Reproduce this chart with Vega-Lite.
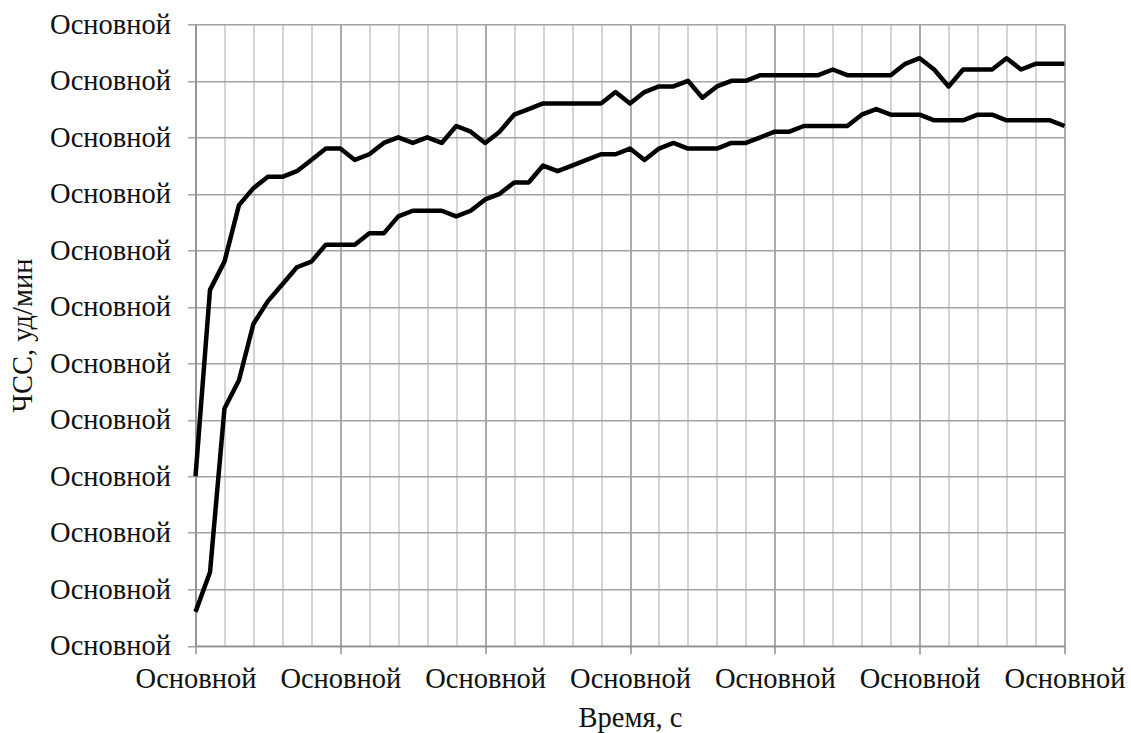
{
  "$schema": "https://vega.github.io/schema/vega-lite/v6.json",
  "width": 869,
  "height": 621.5,
  "autosize": {"type": "none"},
  "padding": {"left": 195.5, "top": 24.3, "right": 66, "bottom": 87},
  "background": "white",
  "config": {"view": {"stroke": null}, "font": "Liberation Serif"},
  "datasets": {
    "hr": [
      {"t": 0, "s": "A", "v": 30}, {"t": 1, "s": "A", "v": 63}, {"t": 2, "s": "A", "v": 68}, {"t": 3, "s": "A", "v": 78}, {"t": 4, "s": "A", "v": 81},
      {"t": 5, "s": "A", "v": 83}, {"t": 6, "s": "A", "v": 83}, {"t": 7, "s": "A", "v": 84}, {"t": 8, "s": "A", "v": 86}, {"t": 9, "s": "A", "v": 88},
      {"t": 10, "s": "A", "v": 88}, {"t": 11, "s": "A", "v": 86}, {"t": 12, "s": "A", "v": 87}, {"t": 13, "s": "A", "v": 89}, {"t": 14, "s": "A", "v": 90},
      {"t": 15, "s": "A", "v": 89}, {"t": 16, "s": "A", "v": 90}, {"t": 17, "s": "A", "v": 89}, {"t": 18, "s": "A", "v": 92}, {"t": 19, "s": "A", "v": 91},
      {"t": 20, "s": "A", "v": 89}, {"t": 21, "s": "A", "v": 91}, {"t": 22, "s": "A", "v": 94}, {"t": 23, "s": "A", "v": 95}, {"t": 24, "s": "A", "v": 96},
      {"t": 25, "s": "A", "v": 96}, {"t": 26, "s": "A", "v": 96}, {"t": 27, "s": "A", "v": 96}, {"t": 28, "s": "A", "v": 96}, {"t": 29, "s": "A", "v": 98},
      {"t": 30, "s": "A", "v": 96}, {"t": 31, "s": "A", "v": 98}, {"t": 32, "s": "A", "v": 99}, {"t": 33, "s": "A", "v": 99}, {"t": 34, "s": "A", "v": 100},
      {"t": 35, "s": "A", "v": 97}, {"t": 36, "s": "A", "v": 99}, {"t": 37, "s": "A", "v": 100}, {"t": 38, "s": "A", "v": 100}, {"t": 39, "s": "A", "v": 101},
      {"t": 40, "s": "A", "v": 101}, {"t": 41, "s": "A", "v": 101}, {"t": 42, "s": "A", "v": 101}, {"t": 43, "s": "A", "v": 101}, {"t": 44, "s": "A", "v": 102},
      {"t": 45, "s": "A", "v": 101}, {"t": 46, "s": "A", "v": 101}, {"t": 47, "s": "A", "v": 101}, {"t": 48, "s": "A", "v": 101}, {"t": 49, "s": "A", "v": 103},
      {"t": 50, "s": "A", "v": 104}, {"t": 51, "s": "A", "v": 102}, {"t": 52, "s": "A", "v": 99}, {"t": 53, "s": "A", "v": 102}, {"t": 54, "s": "A", "v": 102},
      {"t": 55, "s": "A", "v": 102}, {"t": 56, "s": "A", "v": 104}, {"t": 57, "s": "A", "v": 102}, {"t": 58, "s": "A", "v": 103}, {"t": 59, "s": "A", "v": 103},
      {"t": 60, "s": "A", "v": 103},
      {"t": 0, "s": "B", "v": 6}, {"t": 1, "s": "B", "v": 13}, {"t": 2, "s": "B", "v": 42}, {"t": 3, "s": "B", "v": 47}, {"t": 4, "s": "B", "v": 57},
      {"t": 5, "s": "B", "v": 61}, {"t": 6, "s": "B", "v": 64}, {"t": 7, "s": "B", "v": 67}, {"t": 8, "s": "B", "v": 68}, {"t": 9, "s": "B", "v": 71},
      {"t": 10, "s": "B", "v": 71}, {"t": 11, "s": "B", "v": 71}, {"t": 12, "s": "B", "v": 73}, {"t": 13, "s": "B", "v": 73}, {"t": 14, "s": "B", "v": 76},
      {"t": 15, "s": "B", "v": 77}, {"t": 16, "s": "B", "v": 77}, {"t": 17, "s": "B", "v": 77}, {"t": 18, "s": "B", "v": 76}, {"t": 19, "s": "B", "v": 77},
      {"t": 20, "s": "B", "v": 79}, {"t": 21, "s": "B", "v": 80}, {"t": 22, "s": "B", "v": 82}, {"t": 23, "s": "B", "v": 82}, {"t": 24, "s": "B", "v": 85},
      {"t": 25, "s": "B", "v": 84}, {"t": 26, "s": "B", "v": 85}, {"t": 27, "s": "B", "v": 86}, {"t": 28, "s": "B", "v": 87}, {"t": 29, "s": "B", "v": 87},
      {"t": 30, "s": "B", "v": 88}, {"t": 31, "s": "B", "v": 86}, {"t": 32, "s": "B", "v": 88}, {"t": 33, "s": "B", "v": 89}, {"t": 34, "s": "B", "v": 88},
      {"t": 35, "s": "B", "v": 88}, {"t": 36, "s": "B", "v": 88}, {"t": 37, "s": "B", "v": 89}, {"t": 38, "s": "B", "v": 89}, {"t": 39, "s": "B", "v": 90},
      {"t": 40, "s": "B", "v": 91}, {"t": 41, "s": "B", "v": 91}, {"t": 42, "s": "B", "v": 92}, {"t": 43, "s": "B", "v": 92}, {"t": 44, "s": "B", "v": 92},
      {"t": 45, "s": "B", "v": 92}, {"t": 46, "s": "B", "v": 94}, {"t": 47, "s": "B", "v": 95}, {"t": 48, "s": "B", "v": 94}, {"t": 49, "s": "B", "v": 94},
      {"t": 50, "s": "B", "v": 94}, {"t": 51, "s": "B", "v": 93}, {"t": 52, "s": "B", "v": 93}, {"t": 53, "s": "B", "v": 93}, {"t": 54, "s": "B", "v": 94},
      {"t": 55, "s": "B", "v": 94}, {"t": 56, "s": "B", "v": 93}, {"t": 57, "s": "B", "v": 93}, {"t": 58, "s": "B", "v": 93}, {"t": 59, "s": "B", "v": 93},
      {"t": 60, "s": "B", "v": 92}
    ]
  },
  "data": {"name": "hr"},
  "mark": {"type": "line", "strokeWidth": 4.5, "strokeJoin": "round", "strokeCap": "butt", "color": "black"},
  "encoding": {
    "x": {
      "field": "t",
      "type": "quantitative",
      "scale": {"domain": [0, 60], "nice": false, "zero": false},
      "axis": {
        "title": "Время, с",
        "values": [0, 2, 4, 6, 8, 10, 12, 14, 16, 18, 20, 22, 24, 26, 28, 30, 32, 34, 36, 38, 40, 42, 44, 46, 48, 50, 52, 54, 56, 58, 60],
        "labelExpr": "datum.value % 10 === 0 ? 'Основной' : ''",
        "labelOverlap": false,
        "labelFlush": false,
        "labelBound": false,
        "grid": true,
        "gridColor": {"condition": {"test": "datum.value % 10 === 0", "value": "#8f8f8f"}, "value": "#c6c6c6"},
        "gridWidth": 1.5,
        "tickOpacity": {"condition": {"test": "datum.value % 10 === 0", "value": 1}, "value": 0},
        "tickColor": "#8f8f8f",
        "tickSize": 8,
        "tickWidth": 1.5,
        "domainColor": "#8f8f8f",
        "domainWidth": 1.5,
        "labelFont": "Liberation Serif",
        "labelFontSize": 28.5,
        "labelColor": "#111111",
        "labelPadding": 11,
        "titleFont": "Liberation Serif",
        "titleFontSize": 28.5,
        "titleFontWeight": "normal",
        "titleColor": "#111111",
        "titlePadding": 10
      }
    },
    "y": {
      "field": "v",
      "type": "quantitative",
      "scale": {"domain": [0, 110], "nice": false, "zero": false},
      "axis": {
        "title": "ЧСС, уд/мин",
        "values": [0, 10, 20, 30, 40, 50, 60, 70, 80, 90, 100, 110],
        "labelExpr": "'Основной'",
        "labelOverlap": false,
        "labelFlush": false,
        "labelBound": false,
        "grid": true,
        "gridColor": "#a3a3a3",
        "gridWidth": 1.5,
        "tickColor": "#a3a3a3",
        "tickSize": 8,
        "tickWidth": 1.5,
        "domainColor": "#8f8f8f",
        "domainWidth": 1.5,
        "labelFont": "Liberation Serif",
        "labelFontSize": 28.5,
        "labelColor": "#111111",
        "labelPadding": 17,
        "titleFont": "Liberation Serif",
        "titleFontSize": 28.5,
        "titleFontWeight": "normal",
        "titleColor": "#111111",
        "titlePadding": 12
      }
    },
    "detail": {"field": "s"}
  }
}
